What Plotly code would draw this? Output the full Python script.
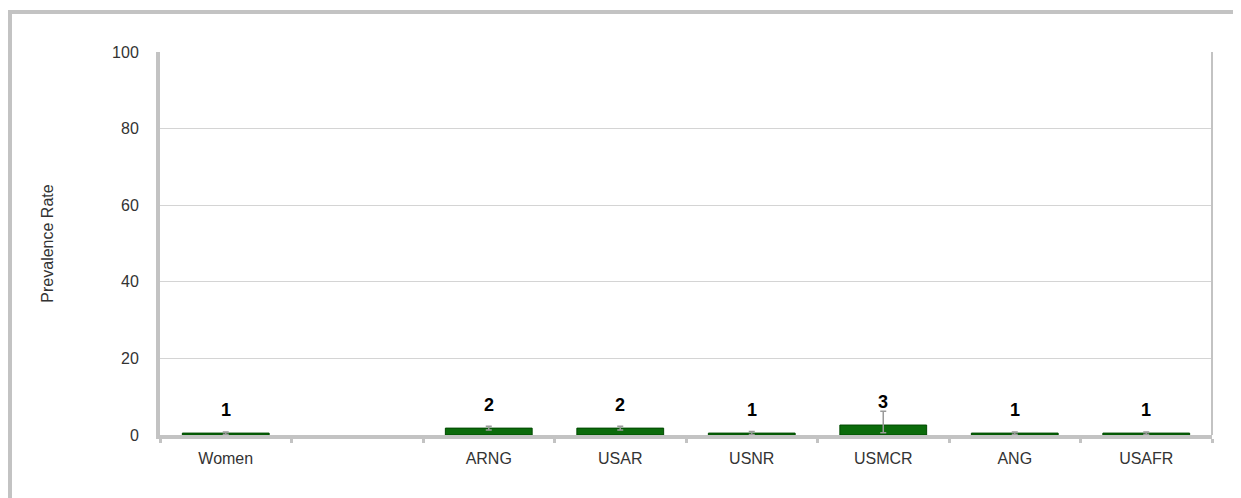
import plotly.graph_objects as go

categories = ["Women", " ", "ARNG", "USAR", "USNR", "USMCR", "ANG", "USAFR"]
values = [0.5, None, 1.8, 1.8, 0.5, 2.6, 0.5, 0.5]
value_labels = ["1", "", "2", "2", "1", "3", "1", "1"]
err_plus = [0.3, 0, 0.5, 0.5, 0.4, 3.6, 0.3, 0.3]
err_minus = [0.3, 0, 0.5, 0.5, 0.4, 2.0, 0.3, 0.3]
y_ticks = [0, 20, 40, 60, 80, 100]

GRAY = "#c3c3c3"
FONT = "Liberation Sans, Arial, sans-serif"

fig = go.Figure()
fig.add_trace(go.Bar(
    x=categories, y=values, width=0.66,
    marker=dict(color="#0b6b0b", line=dict(color="#004a00", width=1)),
    error_y=dict(type="data", array=err_plus, arrayminus=err_minus,
                 color="#9a9a9a", thickness=1.5, width=3),
    showlegend=False, hoverinfo="skip",
))

for c, v, t in zip(categories, values, value_labels):
    if v is None or not t:
        continue
    fig.add_annotation(x=c, y=v, text=t, showarrow=False, yshift=23,
                       yanchor="middle",
                       font=dict(family=FONT, size=18, color="#000000", weight="bold"))

# page has an 8px body margin: figure is drawn 8px right/down of page origin
W, H = 1233, 490
L, T = 152, 44
R = W - 1204
B = H - 427
pw, ph = W - L - R, H - T - B

def px(x):
    return (x - L) / pw

def py(y):
    return (H - B - y) / ph

# outer frame
fig.add_shape(type="rect", xref="paper", yref="paper",
              x0=px(2), x1=px(1230), y0=py(530), y1=py(4),
              line=dict(color=GRAY, width=4), fillcolor="rgba(0,0,0,0)", layer="below")
# right border of plot area
fig.add_shape(type="line", xref="paper", yref="paper", x0=1, x1=1, y0=0, y1=1,
              line=dict(color=GRAY, width=2))

fig.update_layout(
    width=W, height=H,
    margin=dict(l=L, r=R, t=T, b=B),
    paper_bgcolor="white", plot_bgcolor="white",
    font=dict(family=FONT, size=16, color="#333333"),
)
fig.update_xaxes(
    type="category", categoryorder="array", categoryarray=categories,
    showline=True, linecolor=GRAY, linewidth=4,
    ticks="outside", tickson="boundaries", ticklen=4, tickwidth=3, tickcolor=GRAY,
    showgrid=False, tickfont=dict(size=16, color="#333333"),
    ticklabelstandoff=6,
)
fig.update_yaxes(
    range=[0, 100], tickvals=y_ticks, showline=True, linecolor=GRAY, linewidth=4,
    showgrid=True, gridcolor="#d4d4d4", gridwidth=1, zeroline=False,
    tickfont=dict(size=16, color="#333333"), ticklabelstandoff=14,
    title=dict(text="Prevalence Rate", font=dict(size=16, color="#333333"), standoff=55),
)

fig.write_html("out.html")
